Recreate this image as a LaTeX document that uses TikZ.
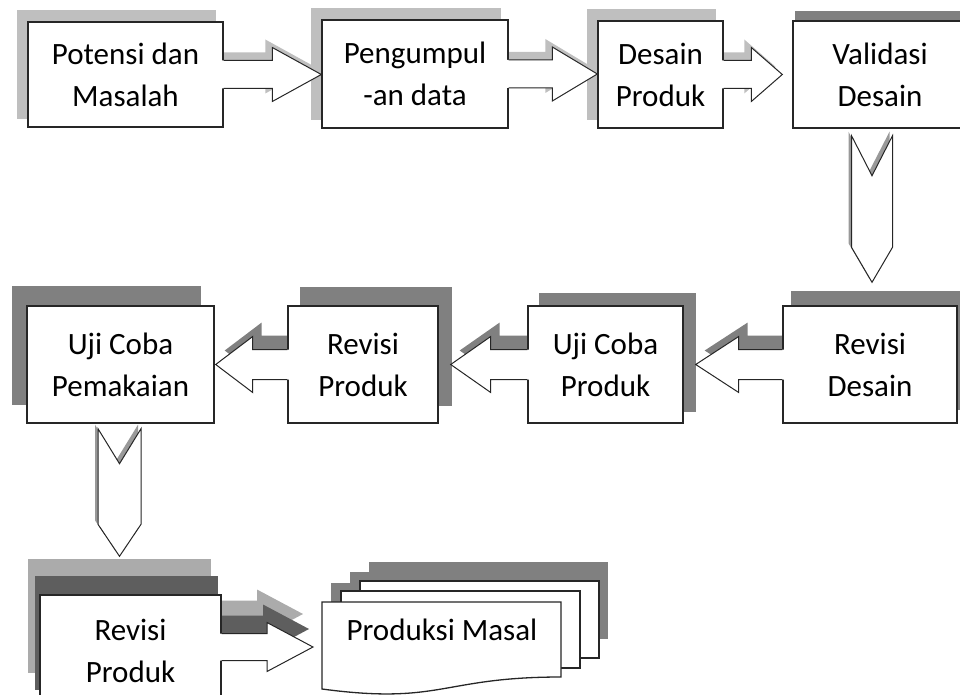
\documentclass[tikz,border=0pt]{standalone}
\usepackage{fontspec}
\setmainfont{Carlito}
\usetikzlibrary{calc}
\pgfdeclarelayer{back}
\pgfsetlayers{back,main}
\tikzset{%
	stage/.style={
		draw=black!85,
		line width=1.4pt,
		fill=white,
		align=center,
		inner sep=0pt,
		font=\fontsize{31}{42}\selectfont
	},
	stage text/.style={
		inner sep=0pt,
		font=\fontsize{31}{42}\selectfont
	},
	page/.style={fill=white, draw=black!85, line width=1.3pt},
	arrow edge/.style={draw=black!85, line width=1pt},
	soft shadow/.style={fill=black!25},
	dark shadow/.style={fill=black!50},
	deep shadow/.style={fill=black!63},
	pale shadow/.style={fill=black!33},
}
% block arrow: options, start, tip, head length, body half, head half
\newcommand{\arrowfill}[6]{%
	\coordinate (hb) at ($(#3)!#4pt!(#2)$);
	\coordinate (st) at ($(#2)!-2pt!(#3)$);
	\fill[#1] ($(st)+(0,#5)$) -- ($(hb)+(0,#5)$) -- ($(hb)+(0,#6)$) -- (#3)
		-- ($(hb)+(0,-#6)$) -- ($(hb)+(0,-#5)$) -- ($(st)+(0,-#5)$) -- cycle;}
\newcommand{\arrowline}[5]{%
	\coordinate (hb) at ($(#2)!#3pt!(#1)$);
	\draw[arrow edge] ($(#1)+(0,#4)$) -- ($(hb)+(0,#4)$) -- ($(hb)+(0,#5)$) -- (#2)
		-- ($(hb)+(0,-#5)$) -- ($(hb)+(0,-#4)$) -- ($(#1)+(0,-#4)$);}
\newcommand{\blockarrow}[6]{%
	\begin{pgfonlayer}{back}\arrowfill{#1}{#2}{#3}{#4}{#5}{#6}\end{pgfonlayer}
	\arrowfill{white}{#2}{#3}{#4}{#5}{#6}
	\arrowline{#2}{#3}{#4}{#5}{#6}}
% notched down arrow: options, top, tip, half width, notch depth, head length
\newcommand{\notchpath}[6]{%
	\path[#1] ($(#2)+(-#4,0)$) -- ($(#2)+(0,#5)$) -- ($(#2)+(#4,0)$) -- ($(#3)+(#4,-#6)$)
		-- (#3) -- ($(#3)+(-#4,-#6)$) -- cycle;}

\begin{document}
\begin{tikzpicture}[x=1pt,y=-1pt]
	\useasboundingbox (0,0) rectangle (960,695);
	
	% Top row
	\node[stage, minimum width=195pt, minimum height=105pt] (A) at (125.5,74.5) {Potensi dan\\Masalah};
	\node[stage, minimum width=186pt, minimum height=108pt] (B) at (415,74) {Pengumpul\\-an data};
	\node[stage, minimum width=125pt, minimum height=107pt] (C) at (660.5,74.5) {Desain\\Produk};
	\node[stage, minimum width=174pt, minimum height=107pt] (D) at (880,74.5) {Validasi\\Desain};
	
	% Middle row
	\node[stage, minimum width=174pt, minimum height=117pt] (E) at (870,364.5) {Revisi\\Desain};
	\node[stage, minimum width=155pt, minimum height=117pt] (F) at (605.5,364.5) {Uji Coba\\Produk};
	\node[stage, minimum width=150pt, minimum height=117pt] (G) at (363,364.5) {Revisi\\Produk};
	\node[stage, minimum width=187pt, minimum height=117pt] (H) at (120.5,364.5) {Uji Coba\\Pemakaian};
	
	% Bottom row
	\node[stage, minimum width=181pt, minimum height=112pt] (I) at (130.5,651) {Revisi\\Produk};
	
	% Box shadows
	\begin{pgfonlayer}{back}
		\foreach \n in {A,B,C}
			\fill[soft shadow] ($(\n.north west)+(-10,-11)$) rectangle ($(\n.south east)+(-8,-9)$);
		\fill[dark shadow] ($(D.north west)+(3,-9)$) rectangle ($(D.south east)+(3,-9)$);
		\foreach \n/\dx/\dy in {E/9/-14, F/12/-12, G/13/-18, H/-14/-19}
			\fill[dark shadow] ($(\n.north west)+(\dx,\dy)$) rectangle ($(\n.south east)+(\dx,\dy)$);
		\fill[pale shadow] ($(I.north west)+(-11,-35)$) rectangle ($(I.south east)+(-11,-35)$);
		\fill[deep shadow] ($(I.north west)+(-4,-18)$) rectangle ($(I.south east)+(-4,-18)$);
	\end{pgfonlayer}
	
	% Multi page document
	\coordinate (doc) at (322,602);
	\begin{pgfonlayer}{back}
		\foreach \dx/\dy in {38/-21, 19/-11, 0/0}
			\fill[dark shadow] ($(doc)+(\dx+9,\dy-19)$) rectangle ++(239,77);
	\end{pgfonlayer}
	\foreach \dx/\dy in {38/-21, 19/-11}
		\filldraw[page] ($(doc)+(\dx,\dy)$) rectangle ++(239,77);
	\filldraw[page] (doc) -- ($(doc)+(239,0)$) -- ($(doc)+(239,75)$)
		.. controls ($(doc)+(119.5,75)$) and ($(doc)+(119.5,103)$) .. ($(doc)+(0,87)$) -- cycle;
	\node[stage text] (J) at ($(doc)+(120,28)$) {Produksi Masal};
	
	% Arrows top row
	\coordinate (t1) at (A.east -| B.west);
	\blockarrow{soft shadow, transform canvas={shift={(-7,-8)}}}{A.east}{t1}{49}{14}{27}
	\coordinate (t2) at (B.east -| C.west);
	\blockarrow{soft shadow, transform canvas={shift={(-7,-8)}}}{B.east}{t2}{45}{14}{27}
	\coordinate (t3) at ($(C.east -| D.west)+(-10,0)$);
	\blockarrow{soft shadow, transform canvas={shift={(-7,-8)}}}{C.east}{t3}{31}{14}{27}
	
	% Arrows middle row
	\coordinate (t4) at ($(E.west -| F.east)+(12,0)$);
	\blockarrow{dark shadow, transform canvas={shift={(9,-14)}}}{E.west}{t4}{43}{15}{28}
	\coordinate (t5) at ($(F.west -| G.east)+(12,0)$);
	\blockarrow{dark shadow, transform canvas={shift={(9,-14)}}}{F.west}{t5}{40}{15}{28}
	\coordinate (t6) at ($(G.west -| H.east)+(1,0)$);
	\blockarrow{dark shadow, transform canvas={shift={(9,-14)}}}{G.west}{t6}{37}{15}{28}
	
	% Arrow to the document
	\coordinate (s7) at ($(I.east)+(0,-4)$);
	\coordinate (t7) at ($(s7 -| doc)+(-9,0)$);
	\begin{pgfonlayer}{back}
		\arrowfill{pale shadow, transform canvas={shift={(-10,-33)}}}{s7}{t7}{46}{13.5}{24.5}
	\end{pgfonlayer}
	\blockarrow{deep shadow, transform canvas={shift={(-4,-18)}}}{s7}{t7}{46}{13.5}{24.5}
	
	% Down arrows
	\coordinate (d1) at ($(D.south)+(-8,7)$);
	\coordinate (e1) at ($(d1 |- E.north)+(0,-23)$);
	\coordinate (h1) at ($(H.south)+(-1,5)$);
	\coordinate (i1) at ($(h1 |- I.north)+(0,-38)$);
	\begin{pgfonlayer}{back}
		\notchpath{fill=black!40, transform canvas={shift={(-3,-4)}}}{d1}{e1}{20.5}{40}{35}
		\notchpath{fill=black!40, transform canvas={shift={(-3,-4)}}}{h1}{i1}{21.5}{35}{32}
	\end{pgfonlayer}
	\notchpath{fill=white, arrow edge}{d1}{e1}{20.5}{40}{35}
	\notchpath{fill=white, arrow edge}{h1}{i1}{21.5}{35}{32}
\end{tikzpicture}
\end{document}
